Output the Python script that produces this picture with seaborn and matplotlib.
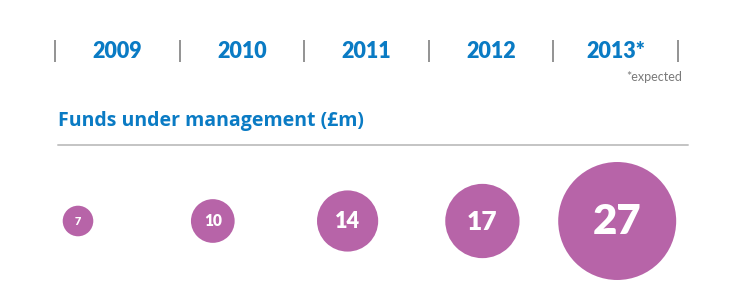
import matplotlib
matplotlib.use("Agg")
import matplotlib.pyplot as plt
import seaborn as sns
import pandas as pd

# Data
years = ["2009", "2010", "2011", "2012", "2013*"]
funds = [7, 10, 14, 17, 27]  # funds under management, £m
title = "Funds under management (£m)"
footnote = "*expected"

BLUE = "#0a7bc4"
PURPLE = "#b764a8"
GREY_LINE = "#c4c4c4"
GREY_SEP = "#8a8a8a"
GREY_TEXT = "#7a7a7a"

sns.set_theme(style="white")
plt.rcParams["font.family"] = ["Lato", "DejaVu Sans"]

W, H = 740, 308
fig = plt.figure(figsize=(W / 100, H / 100), dpi=100)
ax = fig.add_axes([0, 0, 1, 1])

# Bubbles: diameter proportional to the value
df = pd.DataFrame({"year": years, "funds": funds})
df["x"] = [78 + 134.8 * i for i in range(len(df))]
df["y"] = 221
px_per_unit = 4.37
size_map = {v: (px_per_unit * v * 0.72) ** 2 for v in funds}
sns.scatterplot(data=df, x="x", y="y", size="funds", sizes=size_map,
                color=PURPLE, linewidth=0, legend=False, ax=ax, zorder=3)
ax.set_xlim(0, W)
ax.set_ylim(H, 0)
ax.axis("off")

for _, r in df.iterrows():
    ax.text(r["x"], r["y"] + 0.5, f"{r['funds']}", color="white",
            fontsize=1.12 * r["funds"], fontweight="heavy",
            ha="center", va="center", zorder=4)

# Header: year columns separated by short vertical rules
col_left, col_w = 55, 124.6
for i in range(len(years) + 1):
    x = col_left + i * col_w
    ax.plot([x, x], [40, 62], color=GREY_SEP, lw=1.3, solid_capstyle="butt")
for i, y in enumerate(years):
    ax.text(col_left + (i + 0.5) * col_w, 52, y, color=BLUE, fontsize=15.5,
            fontweight="heavy", ha="center", va="center")
ax.text(682, 77, footnote, color=GREY_TEXT, fontsize=9, ha="right",
        va="center", fontweight="normal")

# Section title and rule
ax.text(58, 121, title, color=BLUE, fontsize=14, fontweight="bold",
        family=["Open Sans", "DejaVu Sans"], ha="left", va="center")
ax.plot([58, 688], [145, 145], color=GREY_LINE, lw=1.4)

fig.savefig("out.png", dpi=100, facecolor="white")
